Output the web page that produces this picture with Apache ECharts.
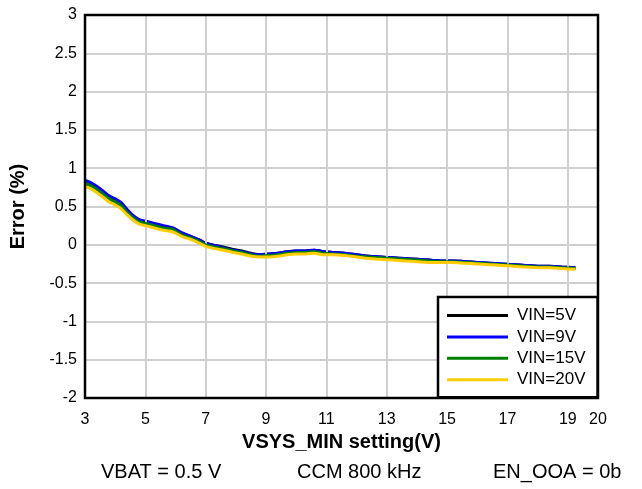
<!DOCTYPE html>
<html>
<head>
<meta charset="utf-8">
<script src="https://cdn.jsdelivr.net/npm/echarts@6/dist/echarts.min.js"></script>
<style>html,body{margin:0;padding:0;background:#fff}#c{width:642px;height:489px}</style>
</head>
<body>
<div id="c"></div>
<script>
const vsys = [3.0,3.2,3.4,3.6,3.8,4.0,4.2,4.4,4.6,4.8,5.0,5.3,5.6,5.9,6.2,6.5,6.8,7.0,7.3,7.6,7.9,8.2,8.5,8.8,9.1,9.4,9.7,10.0,10.3,10.6,10.9,11.2,11.6,12.0,12.4,12.8,13.2,13.6,14.0,14.4,14.8,15.2,15.6,16.0,16.4,16.8,17.2,17.6,18.0,18.4,18.8,19.25];
const vin5 = [0.82,0.79,0.74,0.68,0.62,0.58,0.53,0.44,0.37,0.32,0.30,0.27,0.24,0.22,0.15,0.11,0.06,0.02,-0.01,-0.03,-0.06,-0.08,-0.11,-0.13,-0.12,-0.11,-0.09,-0.08,-0.08,-0.07,-0.09,-0.10,-0.11,-0.13,-0.15,-0.16,-0.17,-0.18,-0.19,-0.20,-0.21,-0.21,-0.22,-0.23,-0.24,-0.25,-0.26,-0.27,-0.28,-0.28,-0.29,-0.30];
const vin9 = [0.84,0.81,0.76,0.70,0.64,0.60,0.55,0.46,0.38,0.33,0.31,0.28,0.25,0.22,0.16,0.11,0.06,0.02,-0.01,-0.04,-0.07,-0.09,-0.12,-0.13,-0.12,-0.11,-0.09,-0.08,-0.08,-0.07,-0.09,-0.10,-0.11,-0.13,-0.15,-0.16,-0.17,-0.18,-0.19,-0.20,-0.21,-0.21,-0.22,-0.23,-0.24,-0.25,-0.26,-0.27,-0.28,-0.28,-0.29,-0.30];
const vin15 = [0.80,0.77,0.72,0.66,0.60,0.56,0.51,0.42,0.35,0.30,0.28,0.25,0.22,0.20,0.13,0.09,0.04,0.00,-0.03,-0.05,-0.08,-0.10,-0.13,-0.15,-0.14,-0.13,-0.11,-0.10,-0.10,-0.09,-0.11,-0.12,-0.13,-0.15,-0.16,-0.17,-0.18,-0.19,-0.20,-0.21,-0.22,-0.22,-0.23,-0.24,-0.25,-0.26,-0.27,-0.28,-0.29,-0.29,-0.30,-0.31];
const vin20 = [0.76,0.73,0.68,0.62,0.56,0.52,0.47,0.39,0.32,0.27,0.25,0.22,0.19,0.17,0.11,0.07,0.02,-0.02,-0.05,-0.07,-0.10,-0.12,-0.15,-0.16,-0.16,-0.15,-0.13,-0.12,-0.12,-0.11,-0.13,-0.13,-0.14,-0.16,-0.18,-0.19,-0.20,-0.21,-0.22,-0.23,-0.23,-0.23,-0.24,-0.25,-0.26,-0.27,-0.28,-0.29,-0.30,-0.30,-0.31,-0.32];
const seriesNames = ['VIN=5V','VIN=9V','VIN=15V','VIN=20V'];
const seriesColors = ['#000000','#0000ff','#008000','#ffcc00'];
const xTickLabels = [3,5,7,9,11,13,15,17,19,20];
const xGridLines = [5,7,9,11,13,15,17,19];
const notes = ['VBAT = 0.5 V','CCM 800 kHz','EN_OOA = 0b'];

const allData = [vin5, vin9, vin15, vin20];
const font = 'Arial, "Liberation Sans", sans-serif';

const series = allData.map((vals, i) => ({
  name: seriesNames[i],
  type: 'line',
  data: vsys.map((x, j) => [x, vals[j]]),
  showSymbol: false,
  smooth: 0.3,
  lineStyle: { color: seriesColors[i], width: 3 },
  itemStyle: { color: seriesColors[i] },
  z: 3 + i
}));
series.push({
  type: 'line',
  data: [],
  silent: true,
  z: 1,
  markLine: {
    silent: true,
    symbol: ['none','none'],
    label: { show: false },
    lineStyle: { color: '#d0d0d0', width: 2, type: 'solid' },
    data: xGridLines.map(v => ({ xAxis: v }))
  }
});

const chart = echarts.init(document.getElementById('c'), null, { renderer: 'canvas' });
chart.setOption({
  animation: false,
  backgroundColor: '#fff',
  grid: { left: 85, top: 15, right: 44, bottom: 91, show: true, borderColor: '#000', borderWidth: 2.5, backgroundColor: 'transparent', z: 10 },
  xAxis: {
    type: 'value', min: 3, max: 20, interval: 1,
    name: 'VSYS_MIN setting(V)', nameLocation: 'middle', nameGap: 31,
    nameTextStyle: { fontFamily: font, fontWeight: 'bold', fontSize: 20, color: '#000' },
    axisLine: { show: false }, axisTick: { show: false }, splitLine: { show: false },
    axisLabel: {
      fontFamily: font, fontSize: 16, color: '#000', margin: 14,
      formatter: v => xTickLabels.indexOf(v) >= 0 ? String(v) : ''
    }
  },
  yAxis: {
    type: 'value', min: -2, max: 3, interval: 0.5,
    name: 'Error (%)', nameLocation: 'middle', nameGap: 57,
    nameTextStyle: { fontFamily: font, fontWeight: 'bold', fontSize: 20, color: '#000' },
    axisLine: { show: false }, axisTick: { show: false },
    splitLine: { show: true, lineStyle: { color: '#d0d0d0', width: 2 } },
    axisLabel: { fontFamily: font, fontSize: 16, color: '#000', margin: 8 }
  },
  legend: {
    data: seriesNames,
    orient: 'vertical', left: 438, top: 297,
    width: 160,
    backgroundColor: '#fff', borderColor: '#000', borderWidth: 2.5,
    padding: [10, 12, 9, 9],
    itemWidth: 61, itemHeight: 3, itemGap: 4.4,
    icon: 'rect',
    textStyle: { fontFamily: font, fontSize: 17, color: '#000', lineHeight: 16, padding: [0, 0, 0, 4] },
    z: 20
  },
  graphic: [
    { type: 'text', left: 101, top: 462, style: { text: notes[0], font: '20px ' + font, fill: '#000' } },
    { type: 'text', left: 297, top: 462, style: { text: notes[1], font: '20px ' + font, fill: '#000' } },
    { type: 'text', left: 493, top: 462, style: { text: notes[2], font: '20px ' + font, fill: '#000' } }
  ],
  series: series
});
</script>
</body>
</html>
